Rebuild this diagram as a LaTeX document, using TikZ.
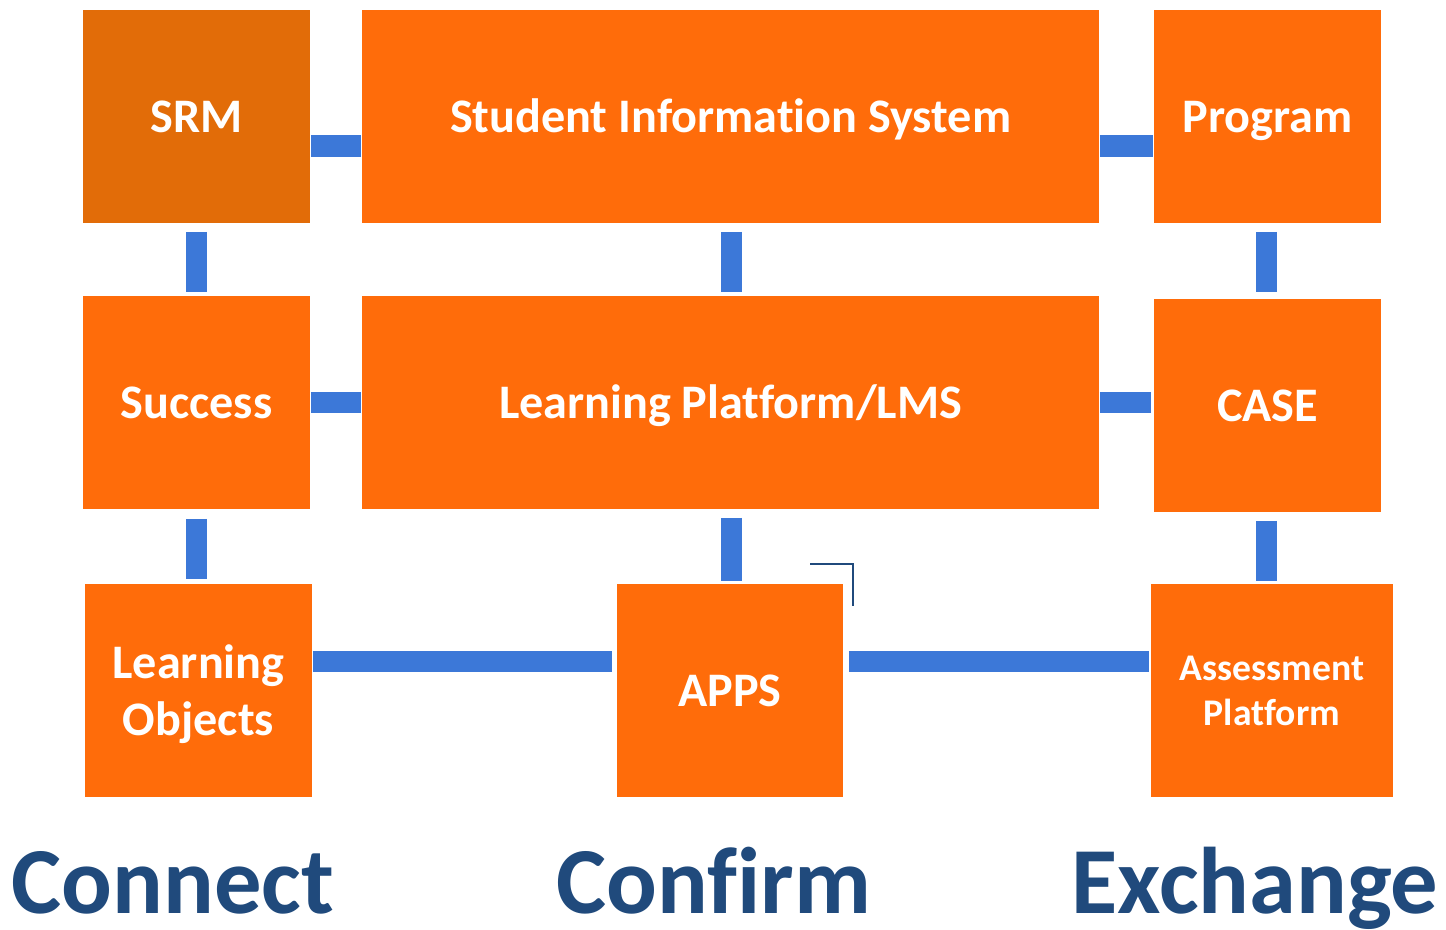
\documentclass[tikz,border=0pt]{standalone}
\usepackage{fontspec}
\setmainfont{Carlito}[Ligatures=CommonOff]
\usepackage{tikz}
\usetikzlibrary{calc}
\definecolor{boxorange}{HTML}{FF6C0A}
\definecolor{srmorange}{HTML}{E26C08}
\definecolor{linkblue}{HTML}{3C78D8}
\definecolor{wordblue}{HTML}{204A7C}

\begin{document}
\begin{tikzpicture}[x=0.01cm,y=-0.01cm,
  block/.style={fill=boxorange,text=white,inner sep=0pt,align=center,
    text height=13.04pt,text depth=3.69pt,
    font=\fontsize{13.7}{16.2}\selectfont\bfseries},
  twoline/.style={text height={},text depth=0pt},
  link/.style={draw=linkblue,line width=0.215cm},
  motto/.style={text=wordblue,anchor=base,inner sep=0pt,text depth=0pt,
    font=\fontsize{26.9}{30}\selectfont\bfseries}]
\useasboundingbox (0,0) rectangle (1446,929);
% top row
\node[block,fill=srmorange,minimum width=2.27cm,minimum height=2.13cm] (SRM) at (196.5,116.5) {SRM};
\node[block,minimum width=7.37cm,minimum height=2.13cm] (SIS) at (730.5,116.5) {Student Information System};
\node[block,minimum width=2.27cm,minimum height=2.13cm] (PRG) at (1267.5,116.5) {Program};
% middle row
\node[block,minimum width=2.27cm,minimum height=2.13cm] (SUC) at (196.5,402.5) {Success};
\node[block,minimum width=7.37cm,minimum height=2.13cm] (LMS) at (730.5,402.5) {Learning Platform/LMS};
\node[block,minimum width=2.27cm,minimum height=2.13cm] (CASE) at (1267.5,405.5) {CASE};
% bottom row
\node[block,twoline,minimum width=2.27cm,minimum height=2.13cm] (LO) at (198.5,690.5) {Learning\\Objects};
\node[block,minimum width=2.26cm,minimum height=2.13cm] (APPS) at (730,690.5) {APPS};
\node[block,twoline,minimum width=2.42cm,minimum height=2.13cm,
  font=\fontsize{10.7}{12.8}\selectfont\bfseries] (ASM) at (1272,690.5) {Assessment\\Platform};
% links
\draw[link] ([yshift=-0.295cm]SRM.east) -- ([yshift=-0.295cm]SIS.west);
\draw[link] ([yshift=-0.295cm]SIS.east) -- ([yshift=-0.295cm]PRG.west);
\draw[link] (SUC.east) -- (SUC.east -| LMS.west);
\draw[link,shorten >=0.02cm] (LMS.east) -- (LMS.east -| CASE.west);
\draw[link,shorten >=0.04cm] ([yshift=0.29cm]LO.east) -- ([yshift=0.29cm]LO.east -| APPS.west);
\draw[link,shorten <=0.05cm,shorten >=0.01cm] ([yshift=0.29cm]APPS.east) -- ([yshift=0.29cm]APPS.east -| ASM.west);
\draw[link,shorten <=0.08cm,shorten >=0.03cm] (SRM.south) -- (SUC.north);
\draw[link,shorten <=0.08cm,shorten >=0.03cm] ([xshift=0.01cm]SIS.south) -- ([xshift=0.01cm]LMS.north);
\draw[link,shorten <=0.08cm,shorten >=0.06cm] ([xshift=-0.01cm]PRG.south) -- ([xshift=-0.01cm]PRG.south |- CASE.north);
\draw[link,shorten <=0.09cm,shorten >=0.04cm] (SUC.south) -- (SUC.south |- LO.north);
\draw[link,shorten <=0.08cm,shorten >=0.02cm] ([xshift=0.01cm]LMS.south) -- ([xshift=0.01cm]LMS.south |- APPS.north);
\draw[link,shorten <=0.08cm,shorten >=0.02cm] ([xshift=-0.01cm]CASE.south) -- ([xshift=-0.01cm]CASE.south |- ASM.north);
% corner mark
\draw[wordblue,line width=0.02cm] (810,564) -- (853,564) -- (853,606);
% mottos
\node[motto] (CON) at (173,913) {Connect};
\node[motto] (CNF) at (714,913) {Confirm};
\node[motto] (EXC) at (1255,913) {Exchange};
\end{tikzpicture}
\end{document}
